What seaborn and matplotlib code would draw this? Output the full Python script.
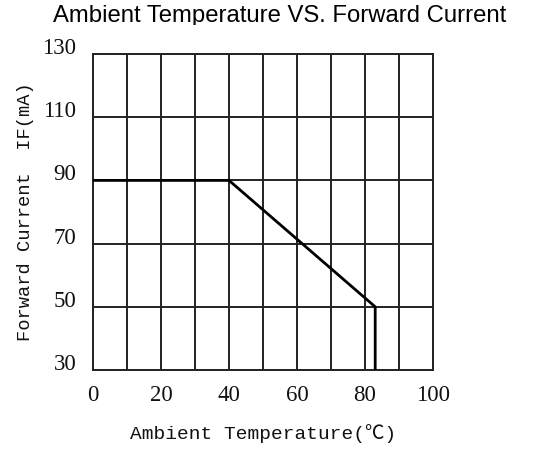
import matplotlib
matplotlib.use("Agg")
import matplotlib.pyplot as plt
import seaborn as sns
import pandas as pd
from matplotlib.patches import Rectangle

# Data
temperature = [0, 40, 83, 83]
current = [90, 90, 50, 30]
x_major = [0, 20, 40, 60, 80, 100]
x_minor = [10, 30, 50, 70, 90]
y_ticks = [30, 50, 70, 90, 110, 130]

title = "Ambient Temperature VS. Forward Current"
xlabel = "Ambient Temperature(℃)"
ylabel = "Forward Current  IF(mA)"

sns.set_theme(style="white")
plt.rcParams['font.family'] = ['Liberation Serif', 'DejaVu Sans']

df = pd.DataFrame({"T": temperature, "I": current})

fig = plt.figure(figsize=(5.42, 4.5), dpi=100)
ax = fig.add_axes([93/542, 80/450, 340/542, 316/450])

sns.lineplot(data=df, x="T", y="I", sort=False, estimator=None,
             color="black", linewidth=2.0, ax=ax, zorder=5)

ax.set_xlim(0, 100)
ax.set_ylim(30, 130)
ax.set_xticks(x_major)
ax.set_xticks(x_minor, minor=True)
ax.set_yticks(y_ticks)
ax.set_xticklabels([str(v) for v in x_major], fontsize=16.5)
ax.set_yticklabels([str(v) for v in y_ticks], fontsize=16.5, va='baseline')
ax.tick_params(axis='both', which='both', length=0, colors='#111111')
ax.tick_params(axis='x', pad=11)
ax.tick_params(axis='y', pad=12)
ax.grid(True, which='both', color='#222222', linewidth=1.4)
for s in ax.spines.values():
    s.set_visible(True)
    s.set_color('#222222')
    s.set_linewidth(1.4)

mono = ['Liberation Mono', 'Noto Sans CJK SC', 'DejaVu Sans']
ax.set_xlabel(xlabel, fontsize=14, family=mono, labelpad=13, color='#111111')
ax.set_ylabel(ylabel, fontsize=13.5, family=mono, labelpad=6, color='#111111')

fig.text(280/542, 1 - 22/450, title, ha='center', va='baseline', fontsize=17.2,
         family=['Liberation Sans', 'DejaVu Sans'], color='black')
fig.patches.append(Rectangle((0, 1 - 33/450), 1, 8/450, transform=fig.transFigure,
                             facecolor='white', edgecolor='none', zorder=10))

fig.savefig("out.png", dpi=100)
